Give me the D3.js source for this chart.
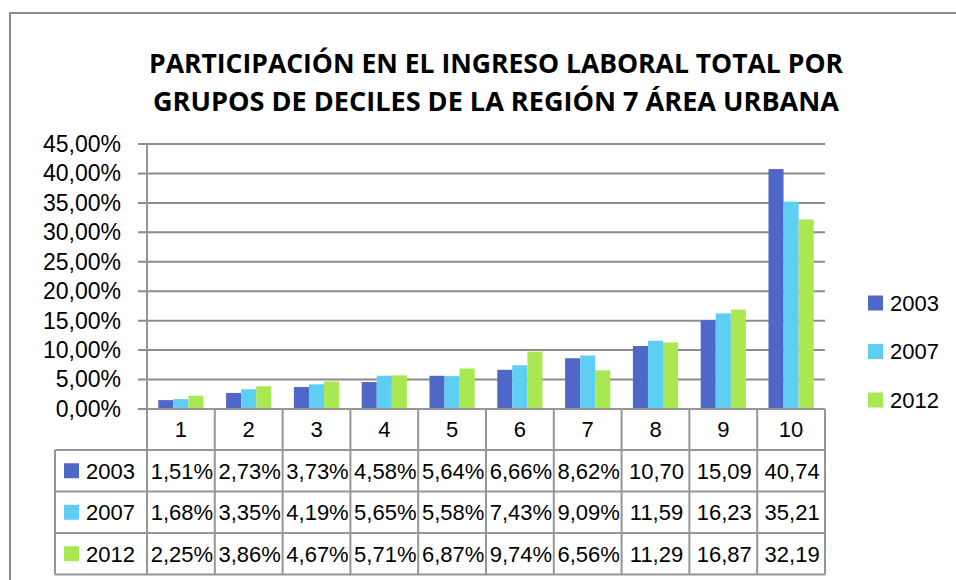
<!DOCTYPE html>
<html>
<head>
<meta charset="utf-8">
<script src="https://cdn.jsdelivr.net/npm/d3@7"></script>
<style>
    body { margin: 0; background: #fff; }
    svg { display: block; }
    text { font-family: "Liberation Sans", Arial, sans-serif; fill: #000; }
</style>
</head>
<body>
<div id="chart"></div>
<script>

// data
let deciles = ["1", "2", "3", "4", "5", "6", "7", "8", "9", "10"];
let years = ["2003", "2007", "2012"];
let values2003 = [1.51, 2.73, 3.73, 4.58, 5.64, 6.66, 8.62, 10.70, 15.09, 40.74];
let values2007 = [1.68, 3.35, 4.19, 5.65, 5.58, 7.43, 9.09, 11.59, 16.23, 35.21];
let values2012 = [2.25, 3.86, 4.67, 5.71, 6.87, 9.74, 6.56, 11.29, 16.87, 32.19];
let yTicks = [0, 5, 10, 15, 20, 25, 30, 35, 40, 45];
let titleLines = ["PARTICIPACIÓN EN EL INGRESO LABORAL TOTAL POR",
                  "GRUPOS DE DECILES DE LA REGIÓN 7 ÁREA URBANA"];

let series = [values2003, values2007, values2012];
let colors = ["#4f67c9", "#5ecff3", "#a9e851"];

let width = 956, height = 580;
let plot = {left: 147, right: 825, top: 144, bottom: 409};
let tableLeft = 55;
let rowH = 41.5;
let headerBottom = 450;

let svg = d3.select("#chart").append("svg")
    .attr("width", width)
    .attr("height", height);

// outer chart border
svg.append("rect")
    .attr("x", 10).attr("y", 13)
    .attr("width", 980).attr("height", 620)
    .attr("fill", "none")
    .attr("stroke", "#8c8c8c")
    .attr("stroke-width", 2);

// title
svg.selectAll(".title")
    .data(titleLines)
    .enter().append("text")
    .attr("class", "title")
    .attr("x", 496)
    .attr("y", (d, i) => 73 + i * 38)
    .attr("text-anchor", "middle")
    .attr("textLength", (d, i) => i === 0 ? 694 : 686)
    .attr("lengthAdjust", "spacingAndGlyphs")
    .style("font-family", "'Open Sans', sans-serif")
    .style("font-weight", "bold")
    .style("font-size", "27px")
    .text(d => d);

let x0 = d3.scaleBand()
    .domain(deciles)
    .range([plot.left, plot.right]);

let step = x0.bandwidth();
let barW = step / 4.5;

let x1 = d3.scaleBand()
    .domain(years)
    .range([barW * 0.75, barW * 0.75 + barW * 3]);

let y = d3.scaleLinear()
    .domain([0, 45])
    .range([plot.bottom, plot.top]);

// gridlines
svg.append("g")
    .selectAll("line")
    .data(yTicks)
    .enter().append("line")
    .attr("x1", plot.left - 9)
    .attr("x2", plot.right)
    .attr("y1", d => y(d))
    .attr("y2", d => y(d))
    .attr("stroke", "#8c8c8c")
    .attr("stroke-width", 2);

// y axis labels
let yAxis = d3.axisLeft(y)
    .tickValues(yTicks)
    .tickSize(9)
    .tickPadding(17)
    .tickFormat(d => d3.format(".2f")(d).replace(".", ",") + "%");

let yg = svg.append("g")
    .attr("transform", `translate(${plot.left},0)`)
    .call(yAxis);
yg.select(".domain").remove();
yg.selectAll(".tick line").remove();
yg.selectAll(".tick text")
    .style("font-family", "'Liberation Sans', Arial, sans-serif")
    .style("font-size", "23px")
    .attr("fill", "#000");

// bars
let groups = svg.append("g")
    .selectAll("g")
    .data(deciles)
    .enter().append("g")
    .attr("transform", d => `translate(${x0(d)},0)`);

groups.selectAll("rect")
    .data((d, i) => years.map((yr, j) => ({year: yr, value: series[j][i], color: colors[j]})))
    .enter().append("rect")
    .attr("x", d => x1(d.year))
    .attr("width", x1.bandwidth())
    .attr("y", d => y(d.value))
    .attr("height", d => y(0) - y(d.value))
    .attr("fill", d => d.color);

// data table
let table = svg.append("g");
let lineStyle = sel => sel.attr("stroke", "#969696").attr("stroke-width", 2);

// left axis line running through the table
table.append("line")
    .attr("x1", plot.left).attr("x2", plot.left)
    .attr("y1", plot.top).attr("y2", headerBottom + rowH * 3)
    .call(lineStyle);

// horizontal lines
table.append("line")
    .attr("x1", plot.left).attr("x2", plot.right)
    .attr("y1", plot.bottom).attr("y2", plot.bottom)
    .call(lineStyle);
for (let r = 0; r <= 3; r++) {
    table.append("line")
        .attr("x1", tableLeft).attr("x2", plot.right)
        .attr("y1", headerBottom + r * rowH).attr("y2", headerBottom + r * rowH)
        .call(lineStyle);
}

// vertical lines
deciles.forEach(function (d) {
    table.append("line")
        .attr("x1", x0(d) + step).attr("x2", x0(d) + step)
        .attr("y1", plot.bottom).attr("y2", headerBottom + rowH * 3)
        .call(lineStyle);
});
table.append("line")
    .attr("x1", tableLeft).attr("x2", tableLeft)
    .attr("y1", headerBottom).attr("y2", headerBottom + rowH * 3)
    .call(lineStyle);

// category labels
table.selectAll(".cat")
    .data(deciles)
    .enter().append("text")
    .attr("x", d => x0(d) + step / 2)
    .attr("y", (plot.bottom + headerBottom) / 2)
    .attr("dy", "0.36em")
    .attr("text-anchor", "middle")
    .style("font-size", "22px")
    .text(d => d);

let fmtCell = v => d3.format(".2f")(v).replace(".", ",") + (v < 10 ? "%" : "");

years.forEach(function (yr, j) {
    let cy = headerBottom + j * rowH + rowH / 2;
    table.append("rect")
        .attr("x", 64).attr("y", cy - 7.5)
        .attr("width", 15).attr("height", 15)
        .attr("fill", colors[j]);
    table.append("text")
        .attr("x", 86).attr("y", cy)
        .attr("dy", "0.36em")
        .style("font-size", "22px")
        .text(yr);
    table.selectAll(".v" + j)
        .data(series[j])
        .enter().append("text")
        .attr("x", (d, i) => x0(deciles[i]) + step / 2 + 1)
        .attr("y", cy)
        .attr("dy", "0.36em")
        .attr("text-anchor", "middle")
        .style("font-size", "22px")
        .text(d => fmtCell(d));
});

// legend on the right
let legend = svg.append("g")
    .selectAll("g")
    .data(years)
    .enter().append("g")
    .attr("transform", (d, i) => `translate(868, ${303 + i * 48.5})`);

legend.append("rect")
    .attr("x", 0).attr("y", -7.5)
    .attr("width", 15).attr("height", 15)
    .attr("fill", (d, i) => colors[i]);

legend.append("text")
    .attr("x", 22).attr("y", 0)
    .attr("dy", "0.36em")
    .style("font-size", "22px")
    .text(d => d);

</script>
</body>
</html>
